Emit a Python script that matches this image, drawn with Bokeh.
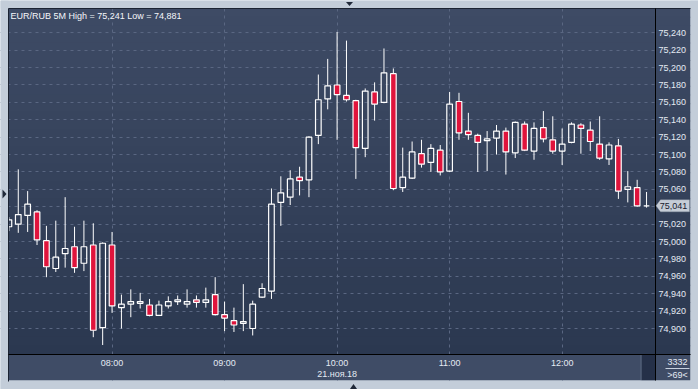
from bokeh.plotting import figure
from bokeh.models import (Range1d, FixedTicker, BoxAnnotation, Label, Grid, LinearAxis,
                          PolyAnnotation, CustomJSTickFormatter)
from bokeh.embed import file_html
from bokeh.resources import INLINE

# ---------------- data ----------------
symbol = "EUR/RUB"
timeframe = "5M"
date_label = "21.ноя.18"
counter_label = "3332"
hour_ticks = [11, 23, 35, 47, 59]
hour_labels = ["08:00", "09:00", "10:00", "11:00", "12:00"]
price_ticks = [74.90, 74.92, 74.94, 74.96, 74.98, 75.00, 75.02, 75.04, 75.06,
               75.08, 75.10, 75.12, 75.14, 75.16, 75.18, 75.20, 75.22, 75.24]

opens = [75.017, 75.020, 75.030, 75.034, 75.001, 74.969, 74.986, 74.994, 74.975, 74.996,
         74.901, 74.996, 74.924, 74.928, 74.929, 74.927, 74.915, 74.926, 74.931, 74.928,
         74.933, 74.930, 74.939, 74.916, 74.909, 74.906, 74.900, 74.936, 74.943, 75.045,
         75.051, 75.074, 75.071, 75.122, 75.164, 75.180, 75.168, 75.162, 75.107, 75.172,
         75.160, 75.193, 75.062, 75.073, 75.101, 75.091, 75.105, 75.081, 75.161, 75.127,
         75.122, 75.116, 75.119, 75.127, 75.102, 75.135, 75.104, 75.131, 75.117, 75.104,
         75.114, 75.134, 75.128, 75.112, 75.095, 75.110, 75.060, 75.062, 75.041]
highs = [75.028, 75.083, 75.058, 75.036, 75.018, 75.024, 75.051, 75.017, 75.024, 75.021,
         74.999, 75.011, 74.939, 74.945, 74.941, 74.934, 74.932, 74.937, 74.938, 74.945,
         74.938, 74.947, 74.959, 74.931, 74.924, 74.951, 74.932, 74.952, 75.061, 75.075,
         75.082, 75.086, 75.121, 75.192, 75.210, 75.241, 75.231, 75.163, 75.176, 75.183,
         75.222, 75.199, 75.108, 75.115, 75.117, 75.112, 75.111, 75.172, 75.171, 75.148,
         75.124, 75.127, 75.134, 75.131, 75.138, 75.138, 75.137, 75.150, 75.144, 75.130,
         75.137, 75.136, 75.138, 75.144, 75.114, 75.118, 75.081, 75.071, 75.057]
lows = [75.012, 75.010, 75.011, 74.996, 74.959, 74.965, 74.970, 74.964, 74.966, 74.890,
        74.881, 74.918, 74.900, 74.913, 74.923, 74.914, 74.915, 74.923, 74.927, 74.924,
        74.924, 74.924, 74.915, 74.897, 74.896, 74.897, 74.892, 74.935, 74.934, 75.018,
        75.042, 75.053, 75.051, 75.112, 75.152, 75.117, 75.161, 75.072, 75.097, 75.139,
        75.159, 75.059, 75.057, 75.072, 75.085, 75.080, 75.076, 75.080, 75.117, 75.117,
        75.080, 75.081, 75.100, 75.077, 75.096, 75.104, 75.094, 75.114, 75.101, 75.088,
        75.113, 75.101, 75.104, 75.094, 75.088, 75.049, 75.045, 75.040, 75.039]
closes = [75.025, 75.031, 75.043, 75.002, 74.971, 74.982, 74.992, 74.970, 74.994, 74.898,
          74.998, 74.926, 74.928, 74.931, 74.931, 74.915, 74.927, 74.931, 74.933, 74.931,
          74.930, 74.933, 74.916, 74.912, 74.904, 74.908, 74.928, 74.946, 75.043, 75.056,
          75.072, 75.070, 75.120, 75.163, 75.179, 75.169, 75.163, 75.108, 75.173, 75.158,
          75.194, 75.061, 75.074, 75.103, 75.089, 75.107, 75.080, 75.158, 75.125, 75.123,
          75.114, 75.118, 75.127, 75.103, 75.137, 75.105, 75.130, 75.118, 75.104, 75.112,
          75.135, 75.130, 75.115, 75.096, 75.111, 75.058, 75.063, 75.041, 75.041]

# ---------------- derived ----------------
n = len(opens)
idx = list(range(n))
tops = [max(o, c) for o, c in zip(opens, closes)]
bots = [min(o, c) for o, c in zip(opens, closes)]
down = [c < o for o, c in zip(opens, closes)]

def fmt(v):
    return f"{v:.3f}".replace(".", ",")

# ---------------- geometry (canvas pixels <-> data) ----------------
W, Hc = 698, 389
X0_PX, PX_PER_BAR = 8.4, 9.377          # x pixel of bar 0, pixels per bar
Y_REF_PX, Y_REF_V, V_PER_PX = 32.3, 75.240, 0.0011498

def xd(X):   # canvas x -> bar index
    return (X - X0_PX) / PX_PER_BAR

def yd(Y):   # canvas y -> price
    return Y_REF_V - (Y - Y_REF_PX) * V_PER_PX

def ypx(v):  # price -> canvas y
    return Y_REF_PX + (Y_REF_V - v) / V_PER_PX

# chart panel: x 8..655, y 8..354 ; right panel to 690 ; bottom panel to 380
L, T, R, B, RP, BP = 8, 8, 655, 354, 690, 380

FONT = "Liberation Sans"
FS = "9px"
TXT = "#e4eaf3"
RED = "#e0143c"
FRAME = "#c3cdd9"

p = figure(width=W, height=Hc, output_backend="svg", toolbar_location=None,
           x_axis_location=None, y_axis_location=None,
           min_border_left=0, min_border_top=0, min_border_right=0, min_border_bottom=0,
           x_range=Range1d(xd(0), xd(W)), y_range=Range1d(yd(Hc), yd(0)))
p.border_fill_color = FRAME
p.background_fill_color = FRAME
p.outline_line_color = None
# hide default grids
for g in list(p.grid):
    g.visible = False


def box(X0, Y0, X1, Y1, color, level):
    p.add_layout(BoxAnnotation(left=X0, right=X1, top=Hc - Y0, bottom=Hc - Y1,
                               left_units="screen", right_units="screen",
                               top_units="screen", bottom_units="screen",
                               fill_color=color, fill_alpha=1, line_color=None,
                               level=level))


def poly(xs, ys, color, level="overlay", line=None):
    p.add_layout(PolyAnnotation(xs=xs, ys=[Hc - y for y in ys], xs_units="screen",
                                ys_units="screen", fill_color=color, fill_alpha=1,
                                line_color=line, line_width=1, level=level))


def text(X, Y, s, color=TXT, align="center", size=FS):
    p.add_layout(Label(x=X, y=Hc - Y, x_units="screen", y_units="screen", text=s,
                       text_font=FONT, text_font_size=size, text_color=color,
                       text_baseline="middle", text_align=align, level="overlay"))


# gradient background
top_rgb = (62, 75, 101)
bot_rgb = (43, 56, 80)
NB = 40
for k in range(NB):
    t = (k + 0.5) / NB
    col = "#%02x%02x%02x" % tuple(int(round(a + (b - a) * t)) for a, b in zip(top_rgb, bot_rgb))
    y0 = T + (B - T) * k / NB - 0.5
    y1 = T + (B - T) * (k + 1) / NB + 0.5
    box(L, y0, R, y1, col, "image")      # chart area (under grid)
    box(R, y0, RP, y1, col, "glyph")     # right scale panel (covers grid)

# grids
ygrid = Grid(dimension=1, ticker=FixedTicker(ticks=price_ticks))
xgrid = Grid(dimension=0, ticker=FixedTicker(ticks=hour_ticks))
for g in (xgrid, ygrid):
    g.grid_line_color = "#5a6782"
    g.grid_line_dash = "3 4"
    g.grid_line_width = 1
    p.add_layout(g)

# wicks
p.segment(x0=idx, y0=tops, x1=idx, y1=highs, line_color="#ffffff", line_width=1)
p.segment(x0=idx, y0=lows, x1=idx, y1=bots, line_color="#ffffff", line_width=1)

# bodies
up_i = [i for i in idx if not down[i]]
dn_i = [i for i in idx if down[i]]
p.vbar(x=up_i, top=[tops[i] for i in up_i], bottom=[bots[i] for i in up_i], width=0.6,
       fill_alpha=0, line_color="#ffffff", line_width=1.2)
p.vbar(x=dn_i, top=[tops[i] for i in dn_i], bottom=[bots[i] for i in dn_i], width=0.6,
       fill_color=RED, line_color="#ffffff", line_width=1.2)

# bottom panel, scrollbar, outer frame strips (cover grid/candles overflow)
box(L, B, RP, BP, "#3f4c66", "glyph")
box(641, B, R, BP, "#253048", "glyph")
box(640, B, 641, BP, "#5a667e", "glyph")
box(0, 0, L, Hc, FRAME, "glyph")
box(0, 0, W, T, FRAME, "glyph")
box(RP, 0, W, Hc, FRAME, "glyph")
box(0, BP, W, Hc, FRAME, "glyph")
box(L - 0.5, T, L + 0.5, BP + 1, "#1b2332", "glyph")
box(L, T - 0.5, RP, T + 0.5, "#1b2332", "glyph")

# axes at fixed locations (right price scale, bottom time scale)
yaxis = LinearAxis(fixed_location=xd(R), ticker=FixedTicker(ticks=price_ticks),
                   formatter=CustomJSTickFormatter(code="return tick.toFixed(3).replace('.', ',');"),
                   bounds=(yd(BP), yd(T)))
xaxis = LinearAxis(fixed_location=yd(B), ticker=FixedTicker(ticks=hour_ticks),
                   major_label_overrides={t: lab for t, lab in zip(hour_ticks, hour_labels)},
                   bounds=(xd(L), xd(RP)))
dateaxis = LinearAxis(fixed_location=yd(B), ticker=FixedTicker(ticks=[hour_ticks[2]]),
                      major_label_overrides={hour_ticks[2]: date_label},
                      bounds=(xd(L), xd(RP)))
for ax in (yaxis, xaxis, dateaxis):
    ax.axis_line_color = "#000000"
    ax.axis_line_width = 1
    ax.major_tick_out = 0
    ax.major_tick_in = 0
    ax.minor_tick_out = 0
    ax.minor_tick_in = 0
    ax.major_label_text_font = FONT
    ax.major_label_text_font_size = FS
    ax.major_label_text_color = TXT
dateaxis.axis_line_color = None
yaxis.major_label_standoff = 3
xaxis.major_label_standoff = 3
dateaxis.major_label_standoff = 14
p.add_layout(yaxis, "right")
p.add_layout(xaxis, "below")
p.add_layout(dateaxis, "below")

# title
title = f"{symbol} {timeframe} High = {fmt(max(highs))} Low = {fmt(min(lows))}"
text(10, 15, title, color="#f4f6fa", align="left")

# bottom-right counters
text(677, 361.7, counter_label)
text(677, 374, f">{n}<")
box(665, 367.5, 689, 368.5, "#c8d2e0", "overlay")

# last price tag
last = closes[-1]
yl = ypx(last)
poly([655.5, 660, 689, 689, 660], [yl, yl - 6, yl - 6, yl + 6, yl + 6], "#c5ccd6",
     line="#8a94a3")
text(673, yl, fmt(last), color="#18202e")

# frame triangles
tri = "#1f2838"
poly([345.5, 352.5, 349], [1.5, 1.5, 5.5], tri)
poly([2, 2, 6], [189, 198, 193.5], tri)
poly([349.5, 356.5, 353], [388.5, 388.5, 383.5], tri)

open("out.html", "w").write(file_html(p, INLINE))
